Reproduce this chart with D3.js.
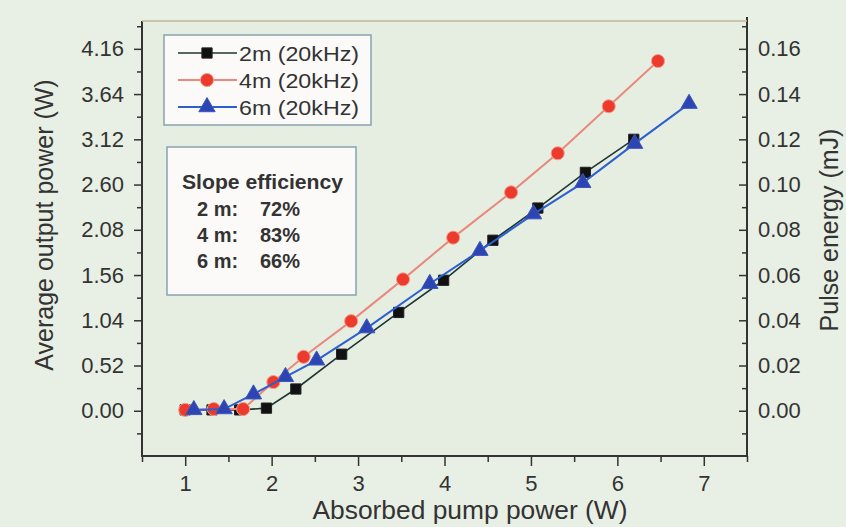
<!DOCTYPE html>
<html>
<head>
<meta charset="utf-8">
<script src="https://cdn.jsdelivr.net/npm/d3@7"></script>
<style>
  html, body { margin: 0; padding: 0; background: #e8efe4; }
  svg { display: block; }
  text { font-family: "Liberation Sans", Arial, sans-serif; fill: #333; }
</style>
</head>
<body>
<svg id="chart" width="846" height="527"></svg>
<script>
// ---- data ----
const x2m = [1.00, 1.31, 1.63, 1.94, 2.28, 2.81, 3.47, 3.99, 4.56, 5.08, 5.63, 6.19];
const y2m = [0.01, 0.01, 0.01, 0.03, 0.25, 0.65, 1.13, 1.50, 1.96, 2.33, 2.74, 3.12];
const x4m = [1.00, 1.33, 1.67, 2.02, 2.37, 2.92, 3.52, 4.10, 4.77, 5.31, 5.90, 6.47];
const y4m = [0.01, 0.02, 0.02, 0.33, 0.62, 1.03, 1.51, 1.99, 2.51, 2.96, 3.50, 4.02];
const x6m = [1.10, 1.45, 1.79, 2.16, 2.52, 3.10, 3.83, 4.41, 5.03, 5.60, 6.20, 6.83];
const y6m = [0.01, 0.02, 0.19, 0.39, 0.58, 0.95, 1.46, 1.84, 2.26, 2.62, 3.07, 3.53];

const seriesNames = ["2m (20kHz)", "4m (20kHz)", "6m (20kHz)"];
const xTicks = [1, 2, 3, 4, 5, 6, 7];
const yLeftTicks = [0.00, 0.52, 1.04, 1.56, 2.08, 2.60, 3.12, 3.64, 4.16];
const yRightTicks = [0.00, 0.02, 0.04, 0.06, 0.08, 0.10, 0.12, 0.14, 0.16];
const slopeTitle = "Slope efficiency";
const slopeLabels = ["2 m:", "4 m:", "6 m:"];
const slopeValues = ["72%", "83%", "66%"];

// ---- layout ----
const svg = d3.select("#chart");
const L = 142, R = 747, T = 21, B = 456;

const x = d3.scaleLinear().domain([0.5, 7.5]).range([L, R]);
const y = d3.scaleLinear().domain([-0.52, 4.48]).range([B, T]);
const yR = d3.scaleLinear().domain([-0.52 / 26, 4.48 / 26]).range([B, T]);

// plot background
svg.append("rect").attr("x", L).attr("y", T).attr("width", R - L).attr("height", B - T)
  .attr("fill", "#e6eee2");

// axes
const fontTick = "22px";
// bottom
const xMinor = d3.range(0.5, 7.51, 0.5).filter(v => !xTicks.includes(v));
svg.append("g").attr("transform", `translate(0,${B})`)
  .call(d3.axisBottom(x).tickValues(xMinor).tickSize(6).tickFormat(""))
  .call(g => g.select(".domain").remove())
  .call(g => g.selectAll("line").attr("stroke", "#333").attr("stroke-width", 1.5));
const gx = svg.append("g").attr("transform", `translate(0,${B})`)
  .call(d3.axisBottom(x).tickValues(xTicks).tickSize(10).tickPadding(9).tickFormat(d3.format("d")));
gx.select(".domain").remove();
gx.selectAll("line").attr("stroke", "#333").attr("stroke-width", 1.5);
gx.selectAll("text").attr("font-size", fontTick).attr("fill", "#333");

// left
const yMinor = d3.range(-0.26, 4.48, 0.52);
svg.append("g").attr("transform", `translate(${L},0)`)
  .call(d3.axisLeft(y).tickValues(yMinor).tickSize(5).tickFormat(""))
  .call(g => g.select(".domain").remove())
  .call(g => g.selectAll("line").attr("stroke", "#333").attr("stroke-width", 1.5));
const gy = svg.append("g").attr("transform", `translate(${L},0)`)
  .call(d3.axisLeft(y).tickValues(yLeftTicks).tickSize(8).tickPadding(10).tickFormat(d3.format(".2f")));
gy.select(".domain").remove();
gy.selectAll("line").attr("stroke", "#333").attr("stroke-width", 1.5);
gy.selectAll("text").attr("font-size", fontTick).attr("fill", "#333");

// right (ticks inward)
const yRMinor = d3.range(-0.01, 0.172, 0.02);
svg.append("g").attr("transform", `translate(${R},0)`)
  .call(d3.axisRight(yR).tickValues(yRMinor).tickSize(-5).tickFormat(""))
  .call(g => g.select(".domain").remove())
  .call(g => g.selectAll("line").attr("stroke", "#333").attr("stroke-width", 1.5));
const gyr = svg.append("g").attr("transform", `translate(${R},0)`)
  .call(d3.axisRight(yR).tickValues(yRightTicks).tickSize(-8).tickPadding(11).tickFormat(d3.format(".2f")));
gyr.select(".domain").remove();
gyr.selectAll("line").attr("stroke", "#333").attr("stroke-width", 1.5);
gyr.selectAll("text").attr("font-size", fontTick).attr("fill", "#333");

// frame
svg.append("line").attr("x1", L).attr("x2", L).attr("y1", T).attr("y2", B + 1).attr("stroke", "#333").attr("stroke-width", 2);
svg.append("line").attr("x1", R).attr("x2", R).attr("y1", T - 4).attr("y2", B + 1).attr("stroke", "#333").attr("stroke-width", 2);
svg.append("line").attr("x1", L).attr("x2", R).attr("y1", B).attr("y2", B).attr("stroke", "#333").attr("stroke-width", 2);
svg.append("line").attr("x1", L).attr("x2", R).attr("y1", T).attr("y2", T).attr("stroke", "#c9b49a").attr("stroke-width", 1.5);

// axis titles
svg.append("text").attr("x", 470).attr("y", 519).attr("text-anchor", "middle")
  .attr("font-size", "25px").attr("textLength", 315).attr("lengthAdjust", "spacingAndGlyphs")
  .text("Absorbed pump power (W)");
svg.append("text").attr("transform", "translate(53,225) rotate(-90)").attr("text-anchor", "middle")
  .attr("font-size", "25px").text("Average output power (W)");
svg.append("text").attr("transform", "translate(838,230) rotate(-90)").attr("text-anchor", "middle")
  .attr("font-size", "25px").text("Pulse energy (mJ)");

// series
const styles = [
  { xs: x2m, ys: y2m, line: "#1f3634", lw: 1.6, fill: "#111", stroke: "#222", sym: d3.symbolSquare, size: 105 },
  { xs: x4m, ys: y4m, line: "#e9897d", lw: 2, fill: "#ec3a2c", stroke: "#f3a08f", sym: d3.symbolCircle, size: 135 },
  { xs: x6m, ys: y6m, line: "#2c60cf", lw: 2, fill: "#2d45b2", stroke: "#3a56c0", sym: d3.symbolTriangle, size: 115 }
];
const lineGen = d3.line().x(d => x(d[0])).y(d => y(d[1]));
styles.forEach(s => {
  const pts = s.xs.map((v, i) => [v, s.ys[i]]);
  svg.append("path").datum(pts).attr("d", lineGen).attr("fill", "none")
    .attr("stroke", s.line).attr("stroke-width", s.lw);
  svg.append("g").selectAll("path").data(pts).join("path")
    .attr("transform", d => `translate(${x(d[0])},${y(d[1])})`)
    .attr("d", d3.symbol().type(s.sym).size(s.size))
    .attr("fill", s.fill).attr("stroke", s.stroke).attr("stroke-width", 1);
});

// legend
svg.append("rect").attr("x", 164).attr("y", 35).attr("width", 207).attr("height", 90)
  .attr("fill", "#fcfaf8").attr("stroke", "#86a2b0").attr("stroke-width", 1.5);
const legY = [53, 80, 107];
styles.forEach((s, i) => {
  svg.append("line").attr("x1", 178).attr("x2", 237).attr("y1", legY[i]).attr("y2", legY[i])
    .attr("stroke", s.line).attr("stroke-width", s.lw);
  svg.append("path").attr("transform", `translate(207,${legY[i]})`)
    .attr("d", d3.symbol().type(s.sym).size(s.size))
    .attr("fill", s.fill).attr("stroke", s.stroke).attr("stroke-width", 1);
  svg.append("text").attr("x", 239).attr("y", legY[i] + 7.5).attr("font-size", "20px")
    .attr("textLength", 120).attr("lengthAdjust", "spacingAndGlyphs")
    .text(seriesNames[i]);
});

// slope efficiency box
svg.append("rect").attr("x", 167).attr("y", 147).attr("width", 189).attr("height", 148)
  .attr("fill", "#fcfaf8").attr("stroke", "#86a2b0").attr("stroke-width", 1.5);
svg.append("text").attr("x", 182).attr("y", 189).attr("font-size", "20px").attr("font-weight", "bold")
  .attr("fill", "#222").attr("textLength", 161).attr("lengthAdjust", "spacingAndGlyphs").text(slopeTitle);
const rowY = [216, 242, 268];
slopeLabels.forEach((lab, i) => {
  svg.append("text").attr("x", 197).attr("y", rowY[i]).attr("font-size", "20px").attr("font-weight", "bold")
    .attr("fill", "#222").text(lab);
  svg.append("text").attr("x", 260).attr("y", rowY[i]).attr("font-size", "20px").attr("font-weight", "bold")
    .attr("fill", "#222").text(slopeValues[i]);
});
</script>
</body>
</html>
